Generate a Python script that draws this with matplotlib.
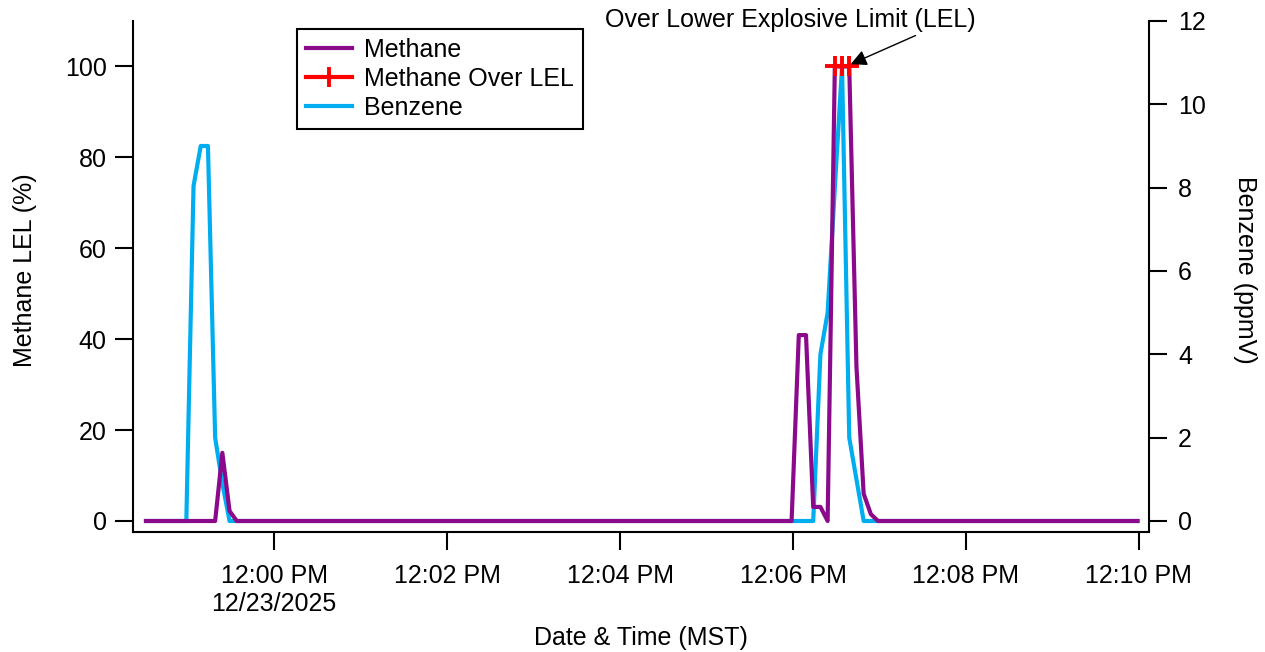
import pandas as pd
import matplotlib
matplotlib.use("Agg")
import matplotlib.pyplot as plt

plt.rcParams['font.family'] = ['Liberation Sans', 'DejaVu Sans']
plt.rcParams['font.size'] = 18

# sample times (MST, 12/23/2025) where the traces change
times = ["11:58:31", "11:58:59", "11:59:04", "11:59:09", "11:59:14", "11:59:19",
         "11:59:24", "11:59:29", "11:59:34", "12:05:59", "12:06:04", "12:06:09",
         "12:06:14", "12:06:19", "12:06:24", "12:06:29", "12:06:34", "12:06:39",
         "12:06:44", "12:06:49", "12:06:54", "12:06:59", "12:09:59"]
methane = [0, 0, 0, 0, 0, 0,
           15, 2.2, 0, 0, 40.9, 40.9,
           3.1, 3.1, 0, 100, 100, 100,
           34, 6, 1.5, 0, 0]
benzene = [0, 0, 8.04, 9.0, 9.0, 2.0,
           0.9, 0, 0, 0, 0, 0,
           0, 4.0, 5.0, 8.0, 10.9, 2.0,
           1.0, 0, 0, 0, 0]

over_lel_times = ["12:06:29", "12:06:34", "12:06:39"]
over_lel = [100, 100, 100]

tick_times = ["12:00", "12:02", "12:04", "12:06", "12:08", "12:10"]
tick_labels = ["12:00 PM\n12/23/2025", "12:02 PM", "12:04 PM", "12:06 PM",
               "12:08 PM", "12:10 PM"]

day = "2025-12-23 "
t = pd.to_datetime([day + s for s in times])
t_lel = pd.to_datetime([day + s for s in over_lel_times])
t_ticks = pd.to_datetime([day + s for s in tick_times])

purple = '#8B0A8B'
blue = '#00AEEF'
red = '#FF0000'

fig = plt.figure(figsize=(12.65, 6.52), dpi=100)
ax1 = fig.add_axes([133/1265, 1-532/652, (1149-133)/1265, (532-21)/652])
ax2 = ax1.twinx()
ax1.set_zorder(ax2.get_zorder() + 1)
ax1.patch.set_visible(False)

lb, = ax2.plot(t, benzene, color=blue, lw=3, label='Benzene')
lm, = ax1.plot(t, methane, color=purple, lw=3, label='Methane')
lr, = ax1.plot(t_lel, over_lel, color=red, lw=3, marker='+', ms=14, mew=2.8,
               label='Methane Over LEL')

ax1.set_xlim(pd.Timestamp(day + "11:58:22"), pd.Timestamp(day + "12:10:07"))
ax1.set_ylim(-2.42, 110)
ax2.set_ylim(-0.264, 12)
ax1.set_yticks(range(0, 101, 20))
ax2.set_yticks(range(0, 13, 2))
ax1.set_xticks(t_ticks)
ax1.set_xticklabels(tick_labels)

for ax in (ax1, ax2):
    for side in ('left', 'right', 'bottom', 'top'):
        ax.spines[side].set_linewidth(1.5)
    ax.spines['top'].set_visible(False)
    ax.tick_params(direction='out', length=13, width=1.5)
ax1.spines['right'].set_visible(False)
ax2.spines['left'].set_visible(False)
ax2.spines['bottom'].set_visible(False)
ax1.tick_params(axis='x', pad=10)
ax1.tick_params(axis='y', pad=6)
ax2.tick_params(axis='y', pad=8)

ax1.set_ylabel('Methane LEL (%)', va='center')
ax1.yaxis.set_label_coords(-0.1063, 0.513)
ax2.set_ylabel('Benzene (ppmV)', rotation=270, va='center')
ax2.yaxis.set_label_coords(1.0945, 0.513)
ax1.set_xlabel('Date & Time (MST)', va='center')
ax1.xaxis.set_label_coords(0.5, -0.207)

ax1.text(pd.Timestamp(day + "12:05:58"), 110.2, 'Over Lower Explosive Limit (LEL)',
         ha='center', va='center', clip_on=False)
ax1.annotate('', xy=(pd.Timestamp(day + "12:06:40"), 100.5),
             xytext=(pd.Timestamp(day + "12:07:25"), 106.8),
             arrowprops=dict(arrowstyle='-|>', color='black', lw=1,
                             mutation_scale=24, shrinkA=0, shrinkB=0),
             annotation_clip=False)

leg = ax1.legend(handles=[lm, lr, lb], loc='upper left',
                 bbox_to_anchor=(297/1265, 1-29/652), bbox_transform=fig.transFigure,
                 borderaxespad=0, fancybox=False, framealpha=1, edgecolor='black',
                 handlelength=1.85, handletextpad=0.5, labelspacing=0.2,
                 borderpad=0.35)
leg.get_frame().set_linewidth(1.5)

fig.savefig('out.png', dpi=100)
